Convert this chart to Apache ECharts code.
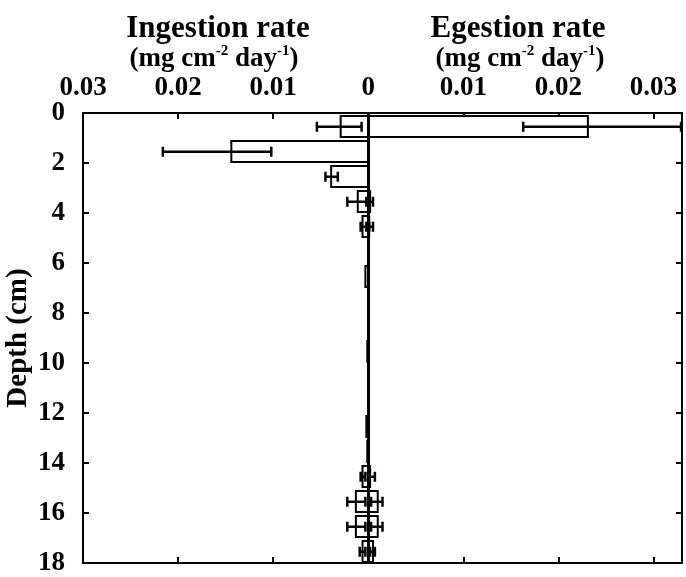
<!DOCTYPE html>
<html>
<head>
<meta charset="utf-8">
<script src="https://cdn.jsdelivr.net/npm/echarts@6/dist/echarts.min.js"></script>
<style>
  html, body { margin: 0; padding: 0; background: #fff; }
  #chart { width: 686px; height: 577px; }
</style>
</head>
<body>
<div id="chart"></div>
<script>
// depth intervals (top of each 1 cm slice)
const depths = [0, 1, 2, 3, 4, 5, 6, 7, 8, 9, 10, 11, 12, 13, 14, 15, 16, 17];

// ingestion rate, mg cm-2 day-1 (drawn to the left)
const ingestion = [0.0029, 0.0144, 0.0039, 0.0011, 0.0006, 0, 0.0003, 0, 0, 0.0001, 0, 0, 0.0002, 0.0001, 0.0006, 0.0013, 0.0013, 0.0006];
const ingestionLow = [0.0007, 0.0102, 0.0032, 0.0002, 0.0002, null, null, null, null, null, null, null, null, null, 0.0003, 0.0003, 0.0003, 0.0003];
const ingestionHigh = [0.0054, 0.0216, 0.0045, 0.0022, 0.0008, null, null, null, null, null, null, null, null, null, 0.0008, 0.0022, 0.0022, 0.0009];

// egestion rate, mg cm-2 day-1 (drawn to the right)
const egestion = [0.0231, 0, 0, 0.0002, 0.0001, 0, 0, 0, 0, 0, 0, 0, 0, 0, 0.0002, 0.0010, 0.0010, 0.0005];
const egestionLow = [0.0163, null, null, 0.0000, 0.0001, null, null, null, null, null, null, null, null, null, 0.0000, 0.0003, 0.0003, 0.0002];
const egestionHigh = [0.0329, null, null, 0.0005, 0.0005, null, null, null, null, null, null, null, null, null, 0.0007, 0.0015, 0.0015, 0.0007];

const FONT = "'Liberation Serif', 'Times New Roman', serif";

function barItem(params, api) {
  const v = api.value(0), d = api.value(1);
  if (!v) return null;
  const a = api.coord([0, d + 0.12]);
  const b = api.coord([v, d + 0.96]);
  return {
    type: 'rect',
    shape: { x: Math.min(a[0], b[0]), y: a[1], width: Math.abs(b[0] - a[0]), height: b[1] - a[1] },
    style: { fill: '#fff', stroke: '#000', lineWidth: 2 }
  };
}

function errItem(params, api) {
  const d = api.value(2);
  const p = api.coord([api.value(0), d + 0.55]);
  const q = api.coord([api.value(1), d + 0.55]);
  const st = { stroke: '#000', lineWidth: 2.5 };
  return {
    type: 'group',
    children: [
      { type: 'line', shape: { x1: p[0], y1: p[1], x2: q[0], y2: q[1] }, style: st },
      { type: 'line', shape: { x1: p[0], y1: p[1] - 5, x2: p[0], y2: p[1] + 5 }, style: st },
      { type: 'line', shape: { x1: q[0], y1: q[1] - 5, x2: q[0], y2: q[1] + 5 }, style: st }
    ]
  };
}

const ingBars = depths.map((d, i) => [-ingestion[i], d]);
const egBars = depths.map((d, i) => [egestion[i], d]);
const ingErr = depths.map((d, i) => [-ingestionLow[i], -ingestionHigh[i], d]).filter((r, i) => ingestionLow[i] !== null);
const egErr = depths.map((d, i) => [egestionLow[i], egestionHigh[i], d]).filter((r, i) => egestionLow[i] !== null);

function xLabel(v) {
  const r = Math.round(v * 100);
  if (Math.abs(v * 100 - r) > 0.01) return '';
  return r === 0 ? '0' : (Math.abs(r) / 100).toFixed(2);
}

const axisLine = { show: true, onZero: false, lineStyle: { color: '#000', width: 2 } };
const axisTick = { show: true, inside: true, length: 6, lineStyle: { color: '#000', width: 2 } };
const labelFont = { color: '#000', fontFamily: FONT, fontWeight: 'bold', fontSize: 27 };

const xBase = { type: 'value', min: -0.03, max: 0.033, interval: 0.01, splitLine: { show: false }, axisLine, axisTick };
const yBase = { type: 'value', min: 0, max: 18, interval: 2, inverse: true, splitLine: { show: false }, axisLine, axisTick };

const unitRich = {
  b: { fontFamily: FONT, fontWeight: 'bold', fontSize: 27, lineHeight: 30, fill: '#000' },
  s: { fontFamily: FONT, fontWeight: 'bold', fontSize: 15, lineHeight: 30, verticalAlign: 'top', fill: '#000' }
};
const unitText = '{b|(mg cm}{s|-2}{b| day}{s|-1}{b|)}';

const chart = echarts.init(document.getElementById('chart'));
chart.setOption({
  animation: false,
  backgroundColor: '#fff',
  grid: { left: 83, right: 4, top: 113, bottom: 14, containLabel: false, outerBoundsMode: 'none' },
  xAxis: [
    Object.assign({}, xBase, { position: 'top', axisLabel: Object.assign({ margin: 11, formatter: xLabel }, labelFont) }),
    Object.assign({}, xBase, { position: 'bottom', axisLabel: { show: false } })
  ],
  yAxis: [
    Object.assign({}, yBase, {
      position: 'left',
      axisLabel: Object.assign({ margin: 18 }, labelFont),
      name: 'Depth (cm)', nameLocation: 'middle', nameGap: 50, nameRotate: 90, nameMoveOverlap: false,
      nameTextStyle: { color: '#000', fontFamily: FONT, fontWeight: 'bold', fontSize: 29 }
    }),
    Object.assign({}, yBase, { position: 'right', axisLabel: { show: false } })
  ],
  graphic: [
    { type: 'text', style: { text: 'Ingestion rate', x: 218, y: 29, align: 'center', verticalAlign: 'middle', fill: '#000', font: 'bold 31px ' + FONT } },
    { type: 'text', style: { text: 'Egestion rate', x: 518, y: 29, align: 'center', verticalAlign: 'middle', fill: '#000', font: 'bold 31px ' + FONT } },
    { type: 'text', style: { text: unitText, rich: unitRich, x: 214, y: 59, align: 'center', verticalAlign: 'middle' } },
    { type: 'text', style: { text: unitText, rich: unitRich, x: 520, y: 59, align: 'center', verticalAlign: 'middle' } }
  ],
  series: [
    { name: 'Ingestion', type: 'custom', renderItem: barItem, data: ingBars, encode: { x: 0, y: 1 }, z: 2 },
    { name: 'Egestion', type: 'custom', renderItem: barItem, data: egBars, encode: { x: 0, y: 1 }, z: 2,
      markLine: { silent: true, symbol: 'none', label: { show: false }, lineStyle: { color: '#000', width: 3, type: 'solid' }, data: [{ xAxis: 0 }] } },
    { name: 'Ingestion SE', type: 'custom', renderItem: errItem, data: ingErr, encode: { x: [0, 1], y: 2 }, z: 3 },
    { name: 'Egestion SE', type: 'custom', renderItem: errItem, data: egErr, encode: { x: [0, 1], y: 2 }, z: 3 }
  ]
});
</script>
</body>
</html>
